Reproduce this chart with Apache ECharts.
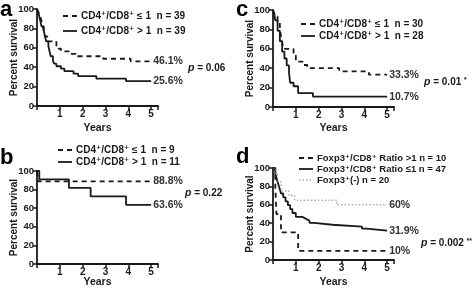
<!DOCTYPE html>
<html>
<head>
<meta charset="utf-8" />
<title>Survival curves</title>
<script src="https://cdn.jsdelivr.net/npm/echarts@6/dist/echarts.min.js"></script>
<style>
  html, body { margin: 0; padding: 0; background: #fff; }
</style>
</head>
<body>
<div id="main" style="width:472px;height:289px;"></div>
<script type="text/javascript">
// step points [years, percent surviving]
var a_low  = [[0,100],[0.05,97.4],[0.1,94.9],[0.15,92.3],[0.2,87.2],[0.25,82],[0.3,76.9],[0.35,71.8],[0.45,66.7],[0.85,61.5],[0.95,59],[1.05,56.4],[1.4,53.8],[1.7,51.3],[2.9,48.7],[4.1,46.1],[5,46.1]];
var a_high = [[0,100],[0.05,97.4],[0.1,92.3],[0.15,87.2],[0.2,82],[0.3,76.9],[0.35,71.8],[0.4,66.7],[0.5,61.5],[0.55,56.4],[0.6,51.3],[0.7,46.2],[0.75,43.6],[0.85,41],[1.05,38.5],[1.2,35.9],[1.6,33.3],[1.8,30.8],[2.6,28.2],[3.9,25.6],[5,25.6]];
var b_low  = [[0,100],[0.05,88.8],[5,88.8]];
var b_high = [[0,100],[0.1,90.9],[1.4,81.8],[2.35,72.7],[3.9,63.6],[5,63.6]];
var c_low  = [[0,100],[0.05,96.7],[0.1,93.3],[0.2,86.7],[0.3,80],[0.35,73.3],[0.4,66.7],[0.45,60],[0.9,53.3],[1.0,46.7],[1.3,43.3],[1.5,40],[2.9,36.7],[4.2,33.3],[5,33.3]];
var c_high = [[0,100],[0.05,96.4],[0.1,89.3],[0.2,78.6],[0.3,67.9],[0.4,57.1],[0.5,50],[0.6,42.9],[0.7,35.7],[0.75,25],[0.9,21.4],[1.1,14.3],[1.75,10.7],[5,10.7]];
var d_ratioHigh = [[0,100],[0.1,80],[0.15,50],[0.35,30],[1.1,10],[5,10]];
var d_ratioLow  = [[0,100],[0.05,97.9],[0.1,93.6],[0.15,89.4],[0.2,85.1],[0.25,80.9],[0.3,76.6],[0.35,72.3],[0.45,68.1],[0.55,63.8],[0.65,59.6],[0.75,55.3],[0.85,51.1],[1.0,46.8],[1.3,44.7],[1.45,42.6],[1.6,40.4],[1.8,38.3],[2.6,36.2],[3.9,34],[4.1,31.9],[5,31.9]];
var d_neg       = [[0,100],[0.1,95],[0.2,85],[0.35,75],[0.7,70],[0.95,65],[2.8,60],[5,60]];

var endTexts = {
    a: ['46.1%', '25.6%'],
    b: ['88.8%', '63.6%'],
    c: ['33.3%', '10.7%'],
    d: ['10%', '31.9%', '60%']
};
// p value text and its significance stars
var pTexts = [['= 0.06', ''], ['= 0.22', ''], ['= 0.01', '*'], ['= 0.002', '**']];
var legendA = ['CD4⁺/CD8⁺ ≤ 1  n = 39', 'CD4⁺/CD8⁺ > 1  n = 39'];
var legendB = ['CD4⁺/CD8⁺ ≤ 1  n = 9', 'CD4⁺/CD8⁺ > 1  n = 11'];
var legendC = ['CD4⁺/CD8⁺ ≤ 1  n = 30', 'CD4⁺/CD8⁺ > 1  n = 28'];
var legendD = ['Foxp3⁺/CD8⁺ Ratio >1 n = 10', 'Foxp3⁺/CD8⁺ Ratio ≤1 n = 47', 'Foxp3⁺(-) n = 20'];

var FONT = 'Arial, "Liberation Sans", "DejaVu Sans", sans-serif';
var INK = '#1a1a1a';

var myChart = echarts.init(document.getElementById('main'));

// panel boxes
var grids = [
    {left: 37, top: 9, width: 121, height: 97},
    {left: 37, top: 171, width: 121, height: 97},
    {left: 273, top: 10, width: 121, height: 97},
    {left: 273, top: 168, width: 121, height: 96}
];

function xAxisFor(i, gap) {
    return {
        type: 'value', gridIndex: i, min: 0, max: 5.3, interval: 1,
        name: 'Years', nameLocation: 'middle', nameGap: gap, nameMoveOverlap: false,
        nameTextStyle: {fontFamily: FONT, fontWeight: 'bold', fontSize: 10.5, color: INK},
        axisLine: {lineStyle: {color: INK, width: 1.8}},
        axisTick: {length: 4, lineStyle: {color: INK, width: 1.5}},
        axisLabel: {
            margin: 3, fontFamily: FONT, fontWeight: 'bold', fontSize: 10, color: INK,
            formatter: function (v) { return (v >= 1 && v <= 5 && v % 1 === 0) ? v : ''; }
        },
        splitLine: {show: false}
    };
}
function yAxisFor(i) {
    return {
        type: 'value', gridIndex: i, min: 0, max: 100, interval: 20,
        name: 'Percent survival', nameLocation: 'middle', nameGap: 18, nameRotate: 90,
        nameMoveOverlap: false,
        nameTextStyle: {fontFamily: FONT, fontWeight: 'bold', fontSize: 10, color: INK},
        axisLine: {show: true, lineStyle: {color: INK, width: 1.8}},
        axisTick: {show: true, length: 4, lineStyle: {color: INK, width: 1.5}},
        axisLabel: {margin: 3, fontFamily: FONT, fontWeight: 'bold', fontSize: 9.5, color: INK},
        splitLine: {show: false}
    };
}
function curve(i, data, dash, label, color, width) {
    return {
        type: 'line', xAxisIndex: i, yAxisIndex: i, step: 'end',
        data: data, symbol: 'none', silent: true, animation: false,
        lineStyle: {color: color || INK, width: width || 1.8, type: dash},
        endLabel: {
            show: true, distance: 2, formatter: label,
            fontFamily: FONT, fontWeight: 'bold', fontSize: 10.5, color: '#333'
        }
    };
}

// legend sample lines + text
function legendItems(x, ys, texts, types, colors, fs) {
    var out = [];
    for (var k = 0; k < texts.length; k++) {
        var dash = types[k] === 'dashed' ? [5, 4] : (types[k] === 'dotted' ? [1.5, 2] : null);
        out.push({
            type: 'line', shape: {x1: x, y1: ys[k], x2: x + 14, y2: ys[k]},
            style: {stroke: colors[k], lineWidth: types[k] === 'dotted' ? 1 : 1.8, lineDash: dash}
        });
        out.push({
            type: 'text', x: x + 18, y: ys[k],
            style: {text: texts[k], fontFamily: FONT, fontWeight: 'bold', fontSize: fs,
                    fill: INK, verticalAlign: 'middle'}
        });
    }
    return out;
}
function bigLetter(t, x, y) {
    return {type: 'text', x: x, y: y,
        style: {text: t, fontFamily: FONT, fontWeight: 'bold', fontSize: 22, fill: '#000', verticalAlign: 'middle'}};
}
function pLabel(p, x, y) {
    var txt = '{i|p} {n|' + p[0] + '}' + (p[1] ? ' {s|' + p[1] + '}' : '');
    return {type: 'text', x: x, y: y,
        style: {text: txt, verticalAlign: 'middle', fontFamily: FONT, fontSize: 10,
            rich: {
                i: {fontFamily: FONT, fontWeight: 'bold', fontStyle: 'italic', fontSize: 10.5, fill: INK},
                n: {fontFamily: FONT, fontWeight: 'bold', fontSize: 10, fill: INK},
                s: {fontFamily: FONT, fontWeight: 'bold', fontSize: 7, fill: INK, verticalAlign: 'top', padding: [0, 0, 4, 0]}
            }}};
}

var graphics = [];
graphics = graphics.concat(legendItems(63, [16, 31], legendA, ['dashed', 'solid'], [INK, INK], 10));
graphics = graphics.concat(legendItems(58, [150, 162], legendB, ['dashed', 'solid'], [INK, INK], 10));
graphics = graphics.concat(legendItems(301, [24, 36], legendC, ['dashed', 'solid'], [INK, INK], 10));
graphics = graphics.concat(legendItems(299, [158, 169, 180], legendD, ['dashed', 'solid', 'dotted'], [INK, INK, '#888'], 9.5));
graphics.push(bigLetter('a', 0, 10));
graphics.push(bigLetter('b', 0, 158));
graphics.push(bigLetter('c', 236, 10));
graphics.push(bigLetter('d', 236, 157));
graphics.push(pLabel(pTexts[0], 188, 68));
graphics.push(pLabel(pTexts[1], 185, 193));
graphics.push(pLabel(pTexts[2], 424, 82));
graphics.push(pLabel(pTexts[3], 421, 243));

var option = {
    animation: false,
    grid: grids,
    xAxis: [xAxisFor(0, 17), xAxisFor(1, 13), xAxisFor(2, 16), xAxisFor(3, 17)],
    yAxis: [yAxisFor(0), yAxisFor(1), yAxisFor(2), yAxisFor(3)],
    series: [
        curve(0, a_low, [5, 4], endTexts.a[0]),
        curve(0, a_high, 'solid', endTexts.a[1]),
        curve(1, b_low, [5, 4], endTexts.b[0]),
        curve(1, b_high, 'solid', endTexts.b[1]),
        curve(2, c_low, [5, 4], endTexts.c[0]),
        curve(2, c_high, 'solid', endTexts.c[1]),
        curve(3, d_ratioHigh, [5, 4], endTexts.d[0]),
        curve(3, d_ratioLow, 'solid', endTexts.d[1]),
        curve(3, d_neg, [1.5, 2], endTexts.d[2], '#888', 1)
    ],
    graphic: graphics
};

myChart.setOption(option);
</script>
</body>
</html>
